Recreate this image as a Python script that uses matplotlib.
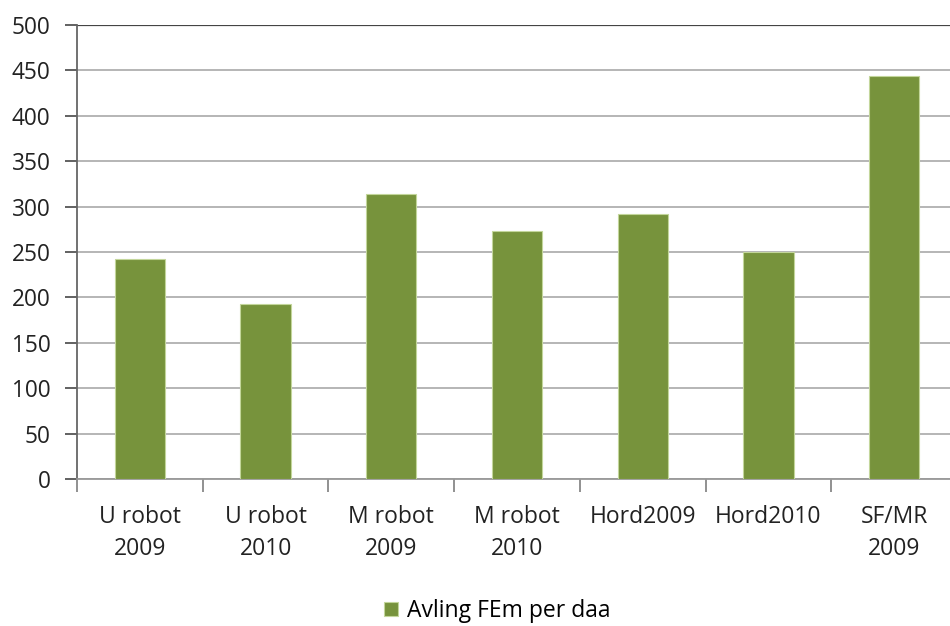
import matplotlib
matplotlib.use("Agg")
import matplotlib.pyplot as plt
import numpy as np

categories = ["U robot\n2009", "U robot\n2010", "M robot\n2009", "M robot\n2010", "Hord2009", "Hord2010", "SF/MR\n2009"]
values = [242, 193, 314, 273, 292, 250, 444]
series_name = "Avling FEm per daa"
yticks = [0, 50, 100, 150, 200, 250, 300, 350, 400, 450, 500]

plt.rcParams['font.family'] = ['Open Sans', 'DejaVu Sans']

fig = plt.figure(figsize=(9.5, 6.26), dpi=100)
# axes: left 77px, right ~957px, top 25px, bottom 479px
ax = fig.add_axes([77/950, 1 - 479/626, 880/950, 454/626])

x = np.arange(len(categories))
ax.bar(x, values, width=0.4, color="#77933C", edgecolor="#C3D69B", linewidth=0.8, zorder=3, label=series_name)

ax.set_xlim(-0.5, len(categories) - 0.5)
ax.set_ylim(0, 500)
ax.set_yticks(yticks)
ax.set_yticklabels([str(t) for t in yticks], fontsize=16.3, color="#222222")
for t in yticks:
    ax.axhline(t, color="#444444" if t == 500 else "#B0B0B0", linewidth=1.6 if t == 500 else 1.3, zorder=1)

ax.set_xticks(x)
ax.set_xticklabels(categories, fontsize=16.5, color="#222222", linespacing=1.45)
ax.set_xticks(np.arange(-0.5, len(categories) + 0.5, 1), minor=True)
ax.tick_params(axis='x', which='major', length=0, pad=19)
ax.tick_params(axis='x', which='minor', length=9, color="#888888", width=1.3)
ax.tick_params(axis='y', length=9, color="#555555", width=1.3, pad=10)

for s in ["top", "right"]:
    ax.spines[s].set_visible(False)
ax.spines["left"].set_color("#666666")
ax.spines["left"].set_linewidth(1.3)
ax.spines["bottom"].set_color("#999999")
ax.spines["bottom"].set_linewidth(1.3)

fig.legend(loc="center", bbox_to_anchor=(497/950, 1 - 611/626), frameon=False, fontsize=16.5,
           handlelength=0.6, handleheight=0.6, handletextpad=0.4)

fig.savefig("out.png", dpi=100)
